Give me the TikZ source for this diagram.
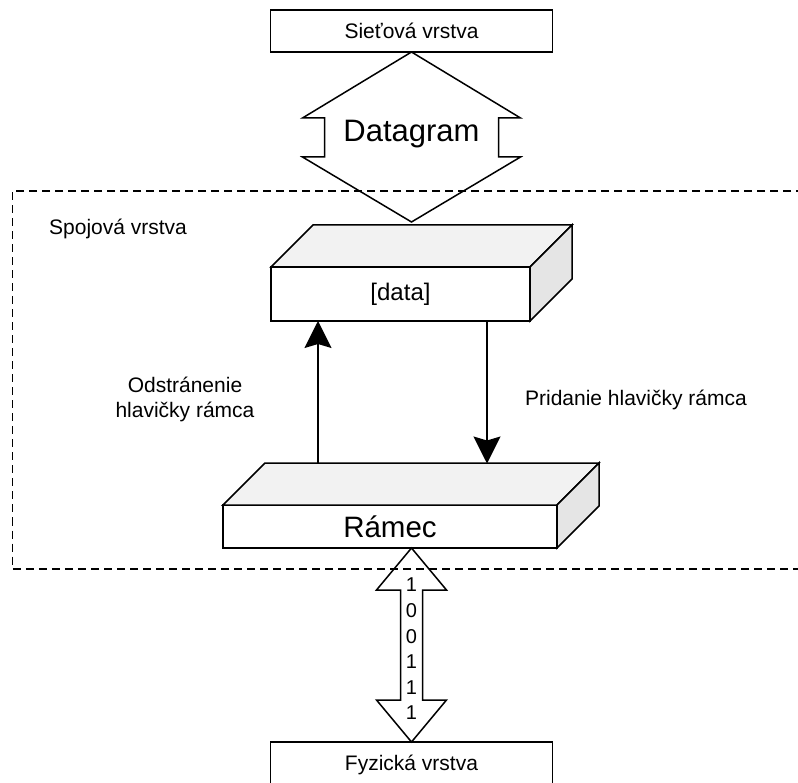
\documentclass[tikz,border=0pt]{standalone}
\usepackage{fontspec}
\setmainfont{Liberation Sans}
\usetikzlibrary{arrows.meta,calc}

\tikzset{
	layerbox/.style={draw, line width=1.5pt, fill=white, minimum width=282pt, minimum height=42pt,
		inner sep=0pt, outer sep=0pt, font=\fontsize{21}{25}\selectfont},
	frontface/.style={draw, line width=1.5pt, fill=white, inner sep=0pt, outer sep=0pt},
	topface/.style={draw, line width=1.5pt, fill=gray!10},
	sideface/.style={draw, line width=1.5pt, fill=gray!20},
	hollowarrow/.style={draw, line width=1.5pt, line join=miter},
	flow/.style={line width=1.5pt, -{Stealth[length=27pt,width=27pt,inset=4pt]}},
	boundary/.style={line width=1.5pt, dash pattern=on 8pt off 5pt},
	note/.style={font=\fontsize{21}{25}\selectfont, inner sep=0pt, align=center}
}

\begin{document}
\begin{tikzpicture}[x=1pt,y=-1pt]
				\useasboundingbox (0,0) rectangle (798,783);
				
				% vrstvy nad a pod spojovou vrstvou
				\node[layerbox] (net) at (411.5,31) {Sieťová vrstva};
				\node[layerbox, minimum height=46pt] (phys) at (411.5,765) {Fyzická vrstva};
				
				% datagram medzi sietovou a spojovou vrstvou
				\draw[hollowarrow] (net.south) -- ++(109,66) -- ++(-22,0) -- ++(0,39) -- ++(22,0)
					-- ++(-109,65) -- ++(-109,-65) -- ++(22,0) -- ++(0,-39) -- ++(-22,0) -- cycle;
				\node[font=\fontsize{31}{37}\selectfont] (datagram) at ($(net.south)+(0,82)$) {Datagram};
				
				% kvader [data]
				\node[frontface, minimum width=259pt, minimum height=54pt, font=\fontsize{24}{29}\selectfont]
					(data) at (400.5,294) {[data]};
				\draw[topface] (data.north west) -- ($(data.north west)+(42,-42)$)
					-- ($(data.north east)+(42,-42)$) -- (data.north east) -- cycle;
				\draw[sideface] (data.north east) -- ($(data.north east)+(42,-42)$)
					-- ($(data.south east)+(42,-42)$) -- (data.south east) -- cycle;
				
				% kvader Rámec
				\node[frontface, minimum width=334pt, minimum height=43pt, font=\fontsize{29.5}{35}\selectfont]
					(frame) at (390,526.5) {Rámec};
				\draw[topface] (frame.north west) -- ($(frame.north west)+(42,-42)$)
					-- ($(frame.north east)+(42,-42)$) -- (frame.north east) -- cycle;
				\draw[sideface] (frame.north east) -- ($(frame.north east)+(42,-42)$)
					-- ($(frame.south east)+(42,-42)$) -- (frame.south east) -- cycle;
				
				% prechody medzi kvadrami
				\coordinate (strip) at (318,463.5);
				\coordinate (add) at (487,463.5);
				\draw[flow] (strip) -- (strip |- data.south);
				\draw[flow] (add |- data.south) -- (add);
				\node[note] (striptext) at (185,399) {Odstránenie\\hlavičky rámca};
				\node[note] (addtext) at (636,400) {Pridanie hlavičky rámca};
				
				% bity k fyzickej vrstve
				\coordinate (bitstop) at (phys.north |- frame.south);
				\draw[hollowarrow] (bitstop) -- ++(35,42) -- ++(-24,0) -- ++(0,110) -- ++(24,0)
					-- ++(-35,42) -- ++(-35,-42) -- ++(24,0) -- ++(0,-110) -- ++(-24,0) -- cycle;
				\node[note, font=\fontsize{20}{25.6}\selectfont] (bits) at ($(bitstop)+(0,101)$) {1\\0\\0\\1\\1\\1};
				
				% hranica spojovej vrstvy
				\draw[boundary] (830,191) -- (12.5,191) -- (12.5,569) -- (830,569);
				\node[note, anchor=west] (linktext) at (49,229) {Spojová vrstva};
				
\end{tikzpicture}
\end{document}
